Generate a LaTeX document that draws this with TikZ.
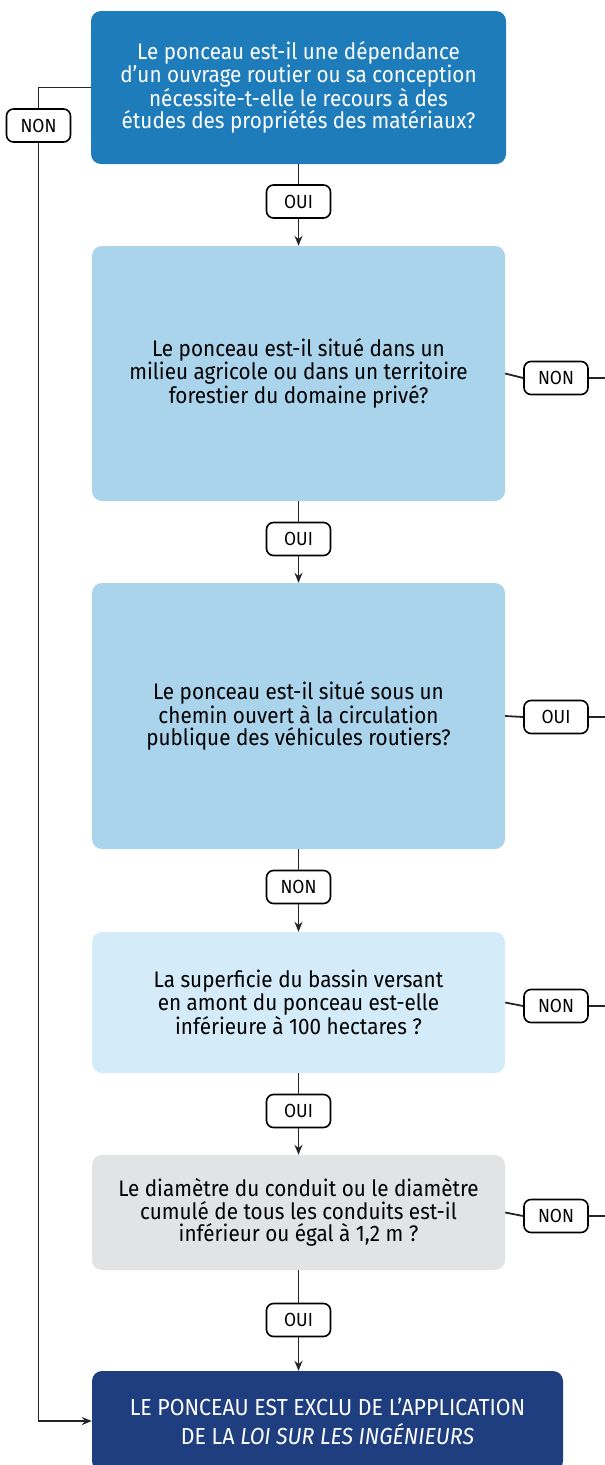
\documentclass[tikz,border=0pt]{standalone}
\usepackage{fontspec}
\setmainfont{Fira Sans}[FakeStretch=0.92]
\usetikzlibrary{arrows.meta}
\definecolor{bOne}{RGB}{30,124,186}
\definecolor{bMid}{RGB}{170,211,236}
\definecolor{bLight}{RGB}{212,236,249}
\definecolor{bGray}{RGB}{226,227,228}
\definecolor{bDark}{RGB}{30,62,128}
\tikzset{
  qbox/.style={rectangle, rounded corners=10pt, align=center, inner sep=0pt,
    font=\fontsize{22.5}{22.8}\selectfont},
  lab/.style={rectangle, draw=black, line width=1.6pt, fill=white, rounded corners=7pt,
    minimum width=64pt, minimum height=33pt, inner sep=0pt,
    font=\fontsize{19}{20}\selectfont},
  conn/.style={line width=1.8pt, draw=black!85},
  arr/.style={conn, -{Stealth[length=10pt,width=8pt]}},
}
\begin{document}
\begin{tikzpicture}[x=1pt,y=-1pt]
\useasboundingbox (0,0) rectangle (605,1465);
% boxes
\node[qbox, fill=bOne, text=white, minimum width=415pt, minimum height=153pt] (b1) at (298.5,87.5)
  {Le ponceau est-il une dépendance\\d'un ouvrage routier ou sa conception\\nécessite-t-elle le recours à des\\études des propriétés des matériaux?};
\node[qbox, fill=bMid, minimum width=413pt, minimum height=255pt] (b2) at (298.5,373.5)
  {Le ponceau est-il situé dans un\\milieu agricole ou dans un territoire\\forestier du domaine privé?};
\node[qbox, fill=bMid, minimum width=413pt, minimum height=266pt] (b3) at (298.5,716)
  {Le ponceau est-il situé sous un\\chemin ouvert à la circulation\\publique des véhicules routiers?};
\node[qbox, fill=bLight, minimum width=413pt, minimum height=141pt] (b4) at (298.5,1002.5)
  {La superficie du bassin versant\\en amont du ponceau est-elle\\inférieure à 100 hectares ?};
\node[qbox, fill=bGray, minimum width=413pt, minimum height=115pt] (b5) at (298.5,1212.5)
  {Le diamètre du conduit ou le diamètre\\cumulé de tous les conduits est-il\\inférieur ou égal à 1,2 m ?};
\node[qbox, fill=bDark, text=white, minimum width=471pt, minimum height=100pt,
  font=\fontsize{23.2}{29}\selectfont] (b6) at (327.5,1421)
  {LE PONCEAU EST EXCLU DE L'APPLICATION\\DE LA \textit{LOI SUR LES INGÉNIEURS}};
% vertical labels
\node[lab] (l1) at (298.5,201.5) {OUI};
\node[lab] (l2) at (298.5,539) {OUI};
\node[lab] (l3) at (298.5,887) {NON};
\node[lab] (l4) at (298.5,1111) {OUI};
\node[lab] (l5) at (298.5,1320) {OUI};
% right labels
\node[lab] (r1) at (556,378) {NON};
\node[lab] (r2) at (556,717) {OUI};
\node[lab] (r3) at (556,1006) {NON};
\node[lab] (r4) at (556,1216) {NON};
\coordinate (e1) at (610,378);
\coordinate (e2) at (610,717);
\coordinate (e3) at (610,1006);
\coordinate (e4) at (610,1216);
% left label
\node[lab] (ln) at (38.5,125.5) {NON};
% vertical connectors
\draw[conn] (b1) -- (l1); \draw[arr] (l1) -- (b2);
\draw[conn] (b2) -- (l2); \draw[arr] (l2) -- (b3);
\draw[conn] (b3) -- (l3); \draw[arr] (l3) -- (b4);
\draw[conn] (b4) -- (l4); \draw[arr] (l4) -- (b5);
\draw[conn] (b5) -- (l5); \draw[arr] (l5) -- (b5 |- b6.north);
% right connectors
\draw[conn] (b2.east) -- (r1.west); \draw[conn] (r1.east) -- (e1);
\draw[conn] (b3.east) -- (r2.west); \draw[conn] (r2.east) -- (e2);
\draw[conn] (b4.east) -- (r3.west); \draw[conn] (r3.east) -- (e3);
\draw[conn] (b5.east) -- (r4.west); \draw[conn] (r4.east) -- (e4);
% left connector
\draw[conn] (b1.west) -| (ln.north);
\draw[arr] (ln.south) |- (b6.west);
\end{tikzpicture}
\end{document}
